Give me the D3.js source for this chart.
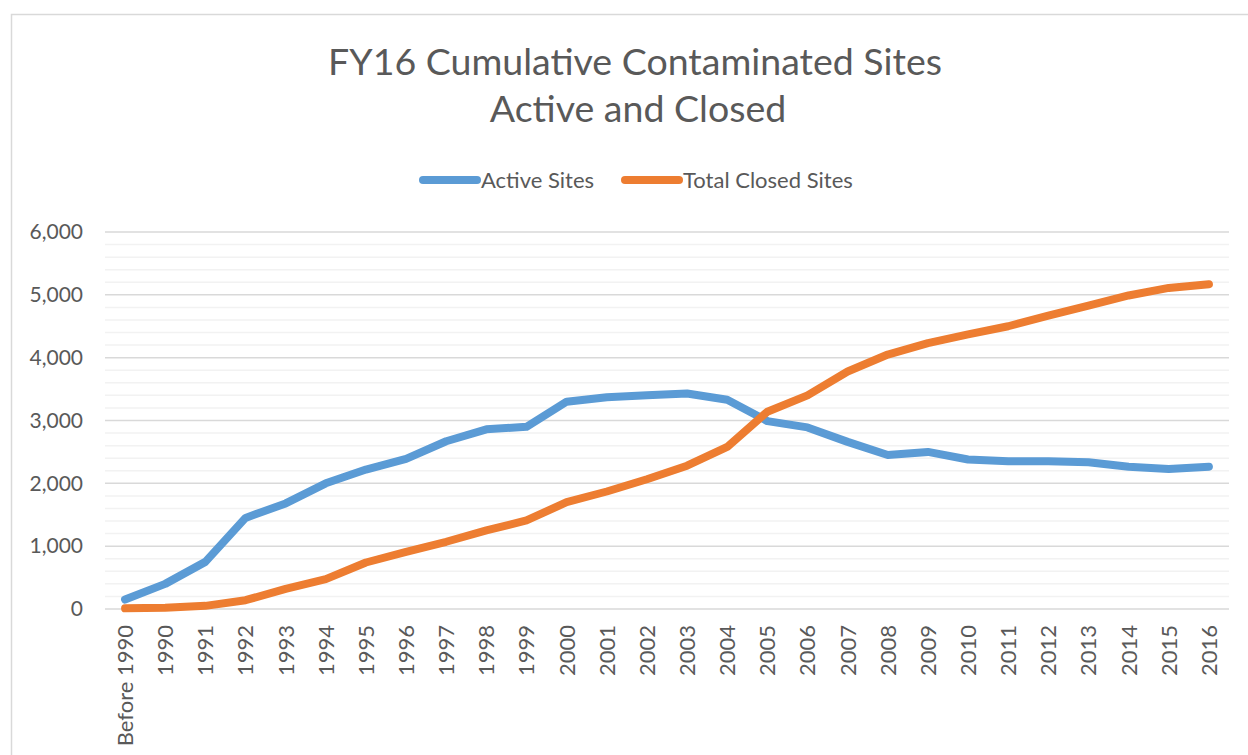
<!DOCTYPE html>
<html>
<head>
<meta charset="utf-8">
<script src="https://cdn.jsdelivr.net/npm/d3@7"></script>
<style>
  body { margin: 0; background: #fff; }
  text { font-family: Lato, "Open Sans", sans-serif; fill: #595959; }
  .grid-major { stroke: #d9d9d9; stroke-width: 1.5; }
  .grid-minor { stroke: #f2f2f2; stroke-width: 1.5; }
  .series { fill: none; stroke-width: 8; stroke-linejoin: round; stroke-linecap: round; }
</style>
</head>
<body>
<svg id="chart"></svg>
<script>
/* DATA */
var categories = ["Before 1990", "1990", "1991", "1992", "1993", "1994", "1995", "1996", "1997",
  "1998", "1999", "2000", "2001", "2002", "2003", "2004", "2005", "2006", "2007", "2008",
  "2009", "2010", "2011", "2012", "2013", "2014", "2015", "2016"];

var activeSites = [150, 400, 750, 1450, 1680, 2000, 2220, 2390, 2670, 2860, 2900, 3300, 3370,
  3400, 3430, 3330, 2990, 2890, 2660, 2450, 2500, 2380, 2350, 2350, 2335, 2265, 2230, 2265];

var closedSites = [10, 20, 50, 140, 320, 475, 740, 910, 1070, 1250, 1410, 1700, 1870, 2065,
  2280, 2580, 3140, 3400, 3780, 4050, 4230, 4370, 4500, 4670, 4830, 4990, 5110, 5170];

var yTicks = [0, 1000, 2000, 3000, 4000, 5000, 6000];

var seriesNames = ["Active Sites", "Total Closed Sites"];
var seriesColors = ["#5b9bd5", "#ed7d31"];

/* SETUP */
var width = 1248;
var height = 755;
var plotLeft = 105;
var plotRight = 1229;
var plotTop = 232;
var plotBottom = 609;

var numberFormat = d3.format(",");

var svg = d3.select("svg#chart")
  .attr("width", width)
  .attr("height", height);

// chart frame (only left and top edges are visible in the crop)
svg.append("path")
  .attr("d", "M11.5," + height + "V14.5H" + width)
  .attr("fill", "none")
  .attr("stroke", "#d9d9d9")
  .attr("stroke-width", 1.5);

var x = d3.scaleBand()
  .domain(categories)
  .range([plotLeft, plotRight]);

var y = d3.scaleLinear()
  .domain([0, 6000])
  .range([plotBottom, plotTop]);

/* GRIDLINES */
var grid = svg.append("g").attr("id", "grid");

grid.selectAll("line.grid-minor")
  .data(d3.range(0, 6001, 200).filter(d => d % 1000 !== 0))
  .enter()
  .append("line")
    .attr("class", "grid-minor")
    .attr("x1", plotLeft)
    .attr("x2", plotRight)
    .attr("y1", d => y(d))
    .attr("y2", d => y(d));

grid.selectAll("line.grid-major")
  .data(yTicks)
  .enter()
  .append("line")
    .attr("class", "grid-major")
    .attr("x1", plotLeft)
    .attr("x2", plotRight)
    .attr("y1", d => y(d))
    .attr("y2", d => y(d));

/* AXES */
var yAxis = d3.axisLeft(y)
  .tickValues(yTicks)
  .tickFormat(numberFormat)
  .tickSize(0)
  .tickPadding(22);

var yAxisGroup = svg.append("g")
  .attr("id", "y-axis")
  .attr("transform", translate(plotLeft, 0))
  .call(yAxis);
yAxisGroup.select(".domain").remove();
yAxisGroup.selectAll("text")
  .style("font-size", "21px")
  .style("font-family", "Lato, 'Open Sans', sans-serif")
  .attr("fill", "#595959");

var xAxis = d3.axisBottom(x).tickSize(0);

var xAxisGroup = svg.append("g")
  .attr("id", "x-axis")
  .attr("transform", translate(0, plotBottom))
  .call(xAxis);
xAxisGroup.select(".domain").remove();
xAxisGroup.selectAll("text")
  .style("font-size", "22px")
  .style("font-family", "Lato, 'Open Sans', sans-serif")
  .attr("fill", "#595959")
  .attr("transform", "rotate(-90)")
  .attr("text-anchor", "end")
  .attr("x", -16)
  .attr("y", 0)
  .attr("dy", "0.36em");

/* LINES */
var line = d3.line()
  .x((d, i) => x(categories[i]) + x.bandwidth() / 2)
  .y(d => y(d));

var plot = svg.append("g").attr("id", "plot");

plot.append("path")
  .datum(activeSites)
  .attr("class", "series")
  .attr("stroke", seriesColors[0])
  .attr("d", line);

plot.append("path")
  .datum(closedSites)
  .attr("class", "series")
  .attr("stroke", seriesColors[1])
  .attr("d", line);

/* TITLE */
var title = svg.append("text")
  .attr("text-anchor", "middle")
  .style("font-size", "37.5px");
title.append("tspan").attr("x", 635).attr("y", 75).text("FY16 Cumulative Contaminated Sites");
title.append("tspan").attr("x", 638).attr("y", 122).text("Active and Closed");

/* LEGEND */
var legendX = [423, 625];
var legend = svg.append("g").attr("id", "legend");

legend.selectAll("line")
  .data(seriesNames)
  .enter()
  .append("line")
    .attr("x1", (d, i) => legendX[i])
    .attr("x2", (d, i) => legendX[i] + 54)
    .attr("y1", 180)
    .attr("y2", 180)
    .attr("stroke", (d, i) => seriesColors[i])
    .attr("stroke-width", 8)
    .attr("stroke-linecap", "round");

legend.selectAll("text")
  .data(seriesNames)
  .enter()
  .append("text")
    .attr("x", (d, i) => legendX[i] + 58)
    .attr("y", 188)
    .style("font-size", "22px")
    .text(d => d);

/* HELPER FUNCTION */
function translate(x, y) {
  return 'translate(' + String(x) + ',' + String(y) + ')';
}
</script>
</body>
</html>
